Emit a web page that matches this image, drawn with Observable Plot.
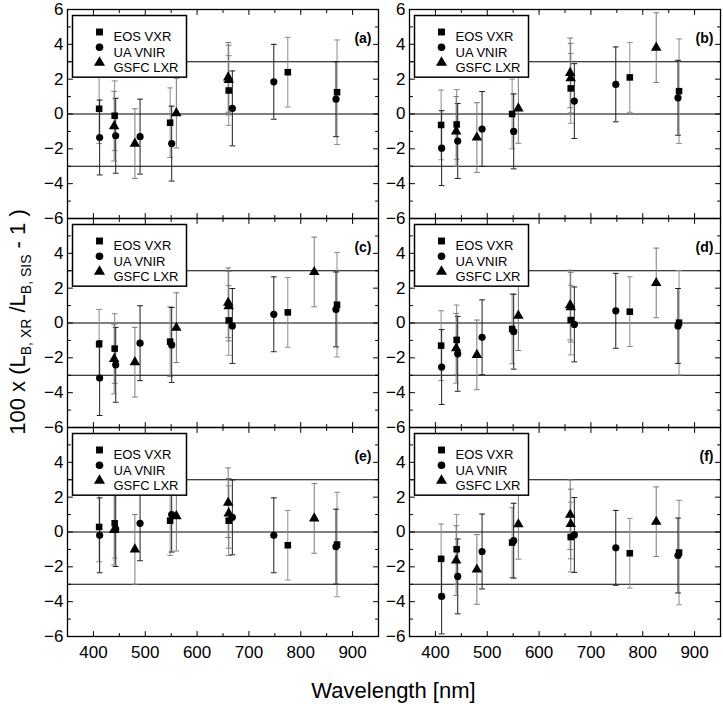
<!DOCTYPE html>
<html><head><meta charset="utf-8">
<script src="https://cdn.jsdelivr.net/npm/d3@7"></script>
<script src="https://cdn.jsdelivr.net/npm/@observablehq/plot@0.6"></script>
<style>body{margin:0;background:#fff}#chart{width:723px;height:704px}</style>
</head><body><div id="chart"></div>
<script>
// ---- data ----
const panelLabels = ["(a)", "(b)", "(c)", "(d)", "(e)", "(f)"];
const seriesNames = ["EOS VXR", "UA VNIR", "GSFC LXR"];
const wlEOS = [411, 441, 548, 661, 775, 870];
const wlUA = [412, 443, 490, 551, 668, 748, 868];
const wlGSFC = [440, 480, 560, 660, 661, 826];
const errEOS = [2.0, 2.0, 2.0, 2.0, 2.0, 3.0];
const errUA = [2.15, 2.15, 2.15, 2.15, 2.15, 2.15, 2.15];
const errGSFC = [2.0, 2.0, 2.0, 2.0, 2.0, 2.0];
const valsEOS = [
  [0.3, -0.1, -0.5, 1.35, 2.4, 1.25],
  [-0.63, -0.6, 0.0, 1.47, 2.1, 1.31],
  [-1.22, -1.47, -1.07, 0.15, 0.61, 1.05],
  [-1.3, -0.97, -0.34, 0.17, 0.65, 0.02],
  [0.29, 0.5, 0.65, 0.65, -0.76, -0.72],
  [-1.54, -0.99, -0.61, -0.29, -1.22, -1.18]
];
const valsUA = [
  [-1.35, -1.25, -1.3, -1.7, 0.32, 1.85, 0.85],
  [-1.96, -1.55, -0.86, -1.0, 0.74, 1.7, 0.93],
  [-3.16, -2.4, -1.16, -1.26, -0.17, 0.5, 0.78],
  [-2.53, -1.77, -0.82, -0.5, -0.08, 0.7, -0.17],
  [-0.19, 0.17, 0.5, 1.0, 0.84, -0.19, -0.84],
  [-3.7, -2.55, -1.12, -0.5, -0.17, -0.91, -1.35]
];
const valsGSFC = [
  [-0.7, -1.7, 0.05, 2.1, 1.95, null],
  [-1.0, -1.35, 0.32, 2.36, 2.06, 3.81],
  [-2.07, -2.25, -0.27, 1.16, 0.97, 2.93],
  [-1.45, -1.83, 0.42, 1.03, 0.91, 2.3],
  [0.11, -1.0, 0.91, 1.68, 1.07, 0.78],
  [-1.64, -2.15, 0.44, 0.99, 0.46, 0.59]
];
const refLines = [-3, 0, 3];
const xTickLabels = [400, 500, 600, 700, 800, 900];
const xMinor = [450, 550, 650, 750, 850];
const yTickLabels = [-6, -4, -2, 0, 2, 4];
const yTopLabel = [6];
const yMajor = [-4, -2, 0, 2, 4];
const yMinor = [-5, -3, -1, 1, 3, 5];

// ---- build table ----
const seriesDefs = [
  {name: seriesNames[0], wl: wlEOS, vals: valsEOS, err: errEOS, symbol: "square", bar: "#8c8c8c"},
  {name: seriesNames[1], wl: wlUA, vals: valsUA, err: errUA, symbol: "circle", bar: "#1e1e1e"},
  {name: seriesNames[2], wl: wlGSFC, vals: valsGSFC, err: errGSFC, symbol: "triangle", bar: "#7a7a7a"}
];
const panels = panelLabels.map((label, i) => ({label, col: i % 2, row: Math.floor(i / 2)}));
const rows = [];
panels.forEach((p, i) => {
  seriesDefs.forEach(s => {
    s.wl.forEach((w, j) => {
      const v = s.vals[i][j];
      if (v == null) return;
      rows.push({label: p.label, col: p.col, row: p.row, series: s.name, w, v, lo: v - s.err[j], hi: v + s.err[j]});
    });
  });
});

const W = 723, H = 704, mL = 67, mR = 3, mT = 8, mB = 68;
const facetH = (H - mT - mB) / 3;
const facetW = 311;
const font = "'Liberation Sans', Arial, Helvetica, sans-serif";
const lineShape = {draw(ctx, l) { ctx.moveTo(0, 0); ctx.lineTo(0, -l); }};
const vtick = (data, opts) => Plot.vector(data, {shape: lineShape, anchor: "start", stroke: "black", strokeWidth: 1, ...opts});
const markerR = {square: 3.7, circle: 3.6, triangle: 3.9};

const marks = [];
// reference lines
marks.push(Plot.ruleY(refLines, {stroke: "black", strokeWidth: 1}));
// error bars
seriesDefs.forEach(s => {
  const d = rows.filter(r => r.series === s.name);
  marks.push(Plot.ruleX(d, {x: "w", y1: "lo", y2: "hi", fx: "col", fy: "row", stroke: s.bar, strokeWidth: 1}));
  marks.push(Plot.vector(d, {x: "w", y: "lo", fx: "col", fy: "row", shape: lineShape, rotate: 90, length: 5, anchor: "middle", stroke: s.bar, strokeWidth: 1}));
  marks.push(Plot.vector(d, {x: "w", y: "hi", fx: "col", fy: "row", shape: lineShape, rotate: 90, length: 5, anchor: "middle", stroke: s.bar, strokeWidth: 1}));
});
// points
seriesDefs.forEach(s => {
  const d = rows.filter(r => r.series === s.name);
  marks.push(Plot.dot(d, {x: "w", y: "v", fx: "col", fy: "row", symbol: s.symbol, r: markerR[s.symbol], fill: "black", stroke: "none"}));
});
// inward ticks on all sides
marks.push(vtick(yMajor, {y: d => d, frameAnchor: "left", rotate: 90, length: 5}));
marks.push(vtick(yMinor, {y: d => d, frameAnchor: "left", rotate: 90, length: 3}));
marks.push(vtick(yMajor, {y: d => d, frameAnchor: "right", rotate: -90, length: 5}));
marks.push(vtick(yMinor, {y: d => d, frameAnchor: "right", rotate: -90, length: 3}));
marks.push(vtick(xTickLabels, {x: d => d, frameAnchor: "bottom", rotate: 0, length: 5}));
marks.push(vtick(xMinor, {x: d => d, frameAnchor: "bottom", rotate: 0, length: 3}));
marks.push(vtick(xTickLabels, {x: d => d, frameAnchor: "top", rotate: 180, length: 5}));
marks.push(vtick(xMinor, {x: d => d, frameAnchor: "top", rotate: 180, length: 3}));
// frame
marks.push(Plot.frame({stroke: "black", strokeWidth: 1.3}));
// axes labels
marks.push(Plot.axisY(yTickLabels, {tickSize: 0, tickPadding: 4, fontSize: 17, facetAnchor: null, label: null}));
marks.push(Plot.axisY(yTopLabel, {tickSize: 0, tickPadding: 4, fontSize: 17, facetAnchor: "top", label: null}));
marks.push(Plot.axisX(xTickLabels, {tickSize: 0, tickPadding: 9, fontSize: 17, label: null}));
// legend box
marks.push(Plot.frame({stroke: "black", strokeWidth: 1.5, fill: "white",
  insetLeft: 5, insetTop: 6, insetRight: facetW - 5 - 114, insetBottom: facetH - 6 - 62}));
seriesDefs.forEach((s, k) => {
  marks.push(Plot.dot([s], {frameAnchor: "top-left", dx: 32, dy: 22.5 + 15.3 * k, symbol: s.symbol, r: markerR[s.symbol] + 0.2, fill: "black"}));
  marks.push(Plot.text([s], {frameAnchor: "top-left", dx: 46, dy: 22.5 + 15.3 * k, text: d => d.name, textAnchor: "start", fontSize: 13, fill: "black"}));
});
// panel labels
marks.push(Plot.text(panels, {fx: "col", fy: "row", text: "label", frameAnchor: "top-right", dx: -7, dy: 24, textAnchor: "end", fontSize: 14, fontWeight: "bold", fill: "black"}));

const chart = Plot.plot({
  width: W, height: H,
  marginLeft: mL, marginRight: mR, marginTop: mT, marginBottom: mB,
  style: {fontFamily: font, background: "white", color: "black"},
  x: {domain: [350, 950]},
  y: {domain: [-6, 6]},
  fx: {domain: [0, 1], axis: null, paddingInner: 31 / 342, paddingOuter: 0},
  fy: {domain: [0, 1, 2], axis: null, paddingInner: 0, paddingOuter: 0},
  marks
});
document.getElementById("chart").appendChild(chart);

// axis titles
const svg = d3.select(chart.tagName.toLowerCase() === "svg" ? chart : chart.querySelector("svg"));
svg.append("text")
  .attr("x", (mL + W - mR) / 2).attr("y", 698)
  .attr("text-anchor", "middle").attr("font-size", 22).attr("font-family", font).attr("fill", "black")
  .text("Wavelength [nm]");
const yt = svg.append("text")
  .attr("transform", `translate(25, ${(mT + H - mB) / 2}) rotate(-90)`)
  .attr("text-anchor", "middle").attr("font-size", 22).attr("font-family", font).attr("fill", "black");
yt.append("tspan").text("100 x (L");
yt.append("tspan").attr("font-size", 14).attr("dy", 6).text("B, XR");
yt.append("tspan").attr("dy", -6).text(" /L");
yt.append("tspan").attr("font-size", 14).attr("dy", 6).text("B, SIS");
yt.append("tspan").attr("dy", -6).text(" - 1 )");
</script></body></html>
